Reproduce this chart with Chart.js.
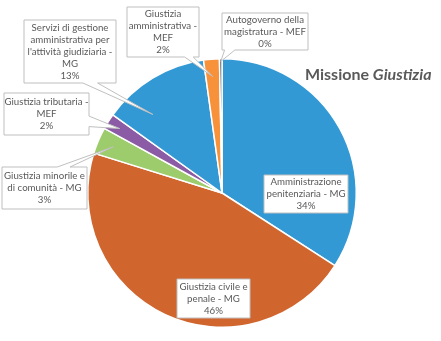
<!DOCTYPE html>
<html>
<head>
<meta charset="utf-8">
<script src="https://cdn.jsdelivr.net/npm/chart.js@4.4.1/dist/chart.umd.min.js"></script>
<style>
  html, body { margin: 0; padding: 0; background: #fff; }
  #wrap { width: 441px; height: 341px; position: relative; }
</style>
</head>
<body>
<div id="wrap"><canvas id="chart"></canvas></div>
<script>
// dati (quote % della missione Giustizia)
const categories = [
  ["Amministrazione", "penitenziaria - MG"],
  ["Giustizia civile e", "penale - MG"],
  ["Giustizia minorile e", "di comunità - MG"],
  ["Giustizia tributaria -", "MEF"],
  ["Servizi di gestione", "amministrativa per", "l'attività giudiziaria -", "MG"],
  ["Giustizia", "amministrativa -", "MEF"],
  ["Autogoverno della", "magistratura - MEF"]
];
const values = [34.1, 45.7, 3.2, 1.9, 12.9, 1.9, 0.3];
const colors = ["#3399D4", "#D0652E", "#9CCC6B", "#8B5BA5", "#3399D4", "#F7923A", "#44546A"];

// posizione dei riquadri delle etichette (x, y, w, h) e della punta del fumetto
const callouts = [
  { box: [264, 175, 84, 38] },
  { box: [177, 279, 73, 39] },
  { box: [2, 167, 85, 42], side: "top", base: [0.65, 0.8], tip: { t: 0.5, r: 0.88 } },
  { box: [4, 93, 85, 42], side: "right", base: [0.55, 0.8], tip: { t: 0.5, r: 0.9 } },
  { box: [24, 20, 92, 63], side: "bottom", base: [0.64, 0.8], tip: { t: 0.28, r: 0.78 } },
  { box: [127, 7, 72, 50], side: "bottom", base: [0.8, 0.92], tip: { t: 0.5, r: 0.87 } },
  { box: [222, 13, 86, 37], side: "bottom", base: [0.03, 0.15], tip: { t: 0.5, r: 0.98 } }
];

const total = values.reduce((a, b) => a + b, 0);
const labelFont = "9.7px Lato, 'Open Sans', sans-serif";

// disegna fumetti ed etichette
const calloutPlugin = {
  id: "callouts",
  afterDatasetsDraw(chart) {
    const ctx = chart.ctx;
    const arcs = chart.getDatasetMeta(0).data;
    ctx.save();
    arcs.forEach((arc, i) => {
      const c = callouts[i];
      const [x, y, w, h] = c.box;
      ctx.beginPath();
      if (c.side) {
        const p = arc.getProps(["x", "y", "startAngle", "endAngle", "outerRadius"], true);
        const a = p.startAngle + c.tip.t * (p.endAngle - p.startAngle);
        const tx = p.x + Math.cos(a) * p.outerRadius * c.tip.r;
        const ty = p.y + Math.sin(a) * p.outerRadius * c.tip.r;
        const [b0, b1] = c.base;
        ctx.moveTo(x, y);
        if (c.side === "top") {
          ctx.lineTo(x + w * b0, y); ctx.lineTo(tx, ty); ctx.lineTo(x + w * b1, y);
        }
        ctx.lineTo(x + w, y);
        if (c.side === "right") {
          ctx.lineTo(x + w, y + h * b0); ctx.lineTo(tx, ty); ctx.lineTo(x + w, y + h * b1);
        }
        ctx.lineTo(x + w, y + h);
        if (c.side === "bottom") {
          ctx.lineTo(x + w * b1, y + h); ctx.lineTo(tx, ty); ctx.lineTo(x + w * b0, y + h);
        }
        ctx.lineTo(x, y + h);
        ctx.closePath();
      } else {
        ctx.rect(x, y, w, h);
      }
      ctx.fillStyle = "#ffffff";
      ctx.fill();
      ctx.strokeStyle = "#BFBFBF";
      ctx.lineWidth = 1;
      ctx.stroke();

      const lines = categories[i].concat([Math.round(values[i] / total * 100) + "%"]);
      ctx.fillStyle = "#595959";
      ctx.font = labelFont;
      ctx.textAlign = "center";
      ctx.textBaseline = "middle";
      const lh = 12;
      const y0 = y + h / 2 - (lines.length - 1) * lh / 2;
      lines.forEach((s, k) => ctx.fillText(s, x + w / 2, y0 + k * lh));
    });

    // titolo con parte in corsivo
    ctx.textAlign = "left";
    ctx.textBaseline = "alphabetic";
    ctx.fillStyle = "#595959";
    const t1 = "Missione ", t2 = "Giustizia";
    ctx.font = "bold 16px Lato, sans-serif";
    const w1 = ctx.measureText(t1).width;
    ctx.fillText(t1, 305, 80);
    ctx.font = "italic bold 16px Lato, sans-serif";
    ctx.fillText(t2, 305 + w1, 80);
    ctx.restore();
  }
};

new Chart(document.getElementById("chart"), {
  type: "pie",
  data: {
    labels: categories.map(l => l.join(" ")),
    datasets: [{
      data: values,
      backgroundColor: colors,
      borderColor: "#ffffff",
      borderWidth: 1.5
    }]
  },
  options: {
    responsive: true,
    maintainAspectRatio: false,
    animation: false,
    layout: { padding: { left: 40, right: 37, top: 58, bottom: 13 } },
    plugins: {
      legend: { display: false },
      tooltip: { enabled: false }
    }
  },
  plugins: [calloutPlugin]
});
</script>
</body>
</html>
